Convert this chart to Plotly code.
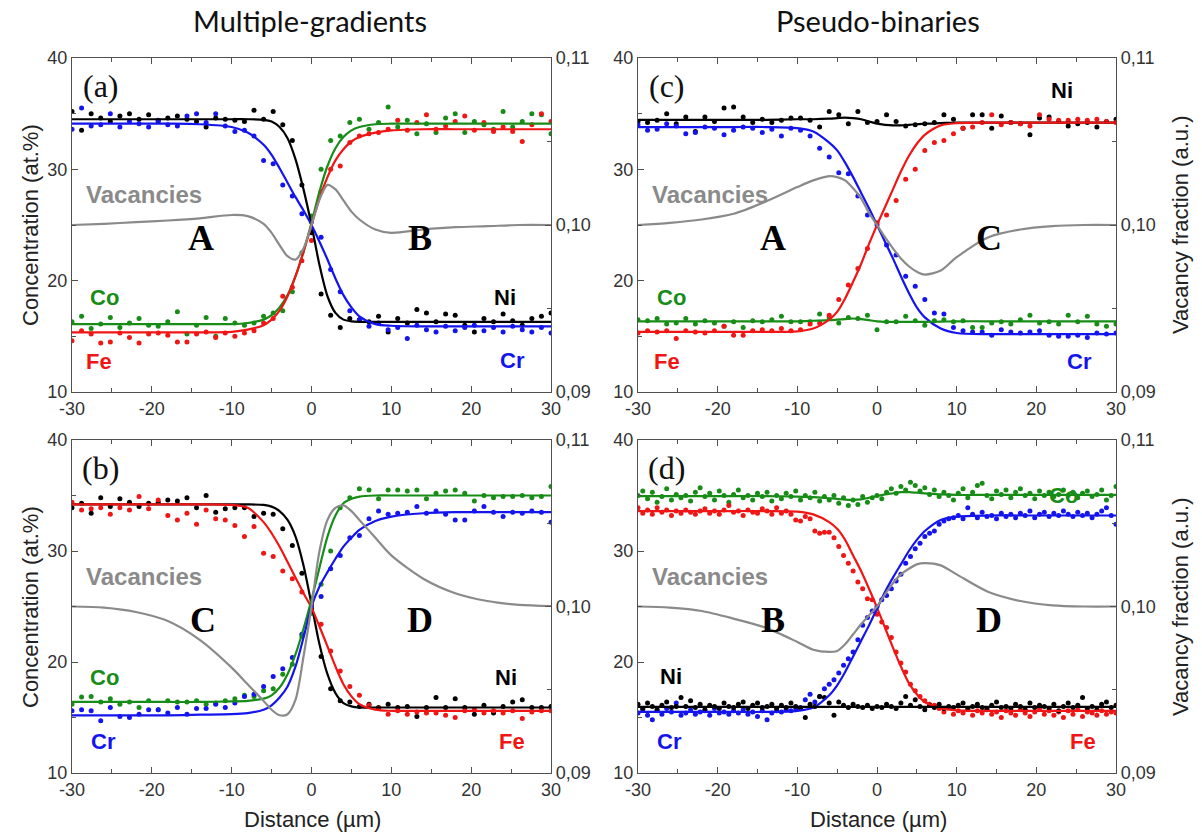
import plotly.graph_objects as go

# ---------------------------------------------------------------------------
# Measurement positions (µm)
# ---------------------------------------------------------------------------
DIST = [-30.0, -28.8, -27.6, -26.4, -25.2, -24.0, -22.8, -21.6, -20.4, -19.2,
        -18.0, -16.8, -15.6, -14.4, -13.2, -12.0, -10.8, -9.6, -8.4, -7.2,
        -6.0, -4.8, -3.6, -2.4, -1.2, 0.0, 1.2, 2.4, 3.6, 4.8,
        6.0, 7.2, 8.4, 9.6, 10.8, 12.0, 13.2, 14.4, 15.6, 16.8,
        18.0, 19.2, 20.4, 21.6, 22.8, 24.0, 25.2, 26.4, 27.6, 28.8, 30.0]

DIST_D = [-30.0, -29.4, -28.8, -28.2, -27.6, -27.0, -26.4, -25.8, -25.2, -24.6,
          -24.0, -23.4, -22.8, -22.2, -21.6, -21.0, -20.4, -19.8, -19.2, -18.6,
          -18.0, -17.4, -16.8, -16.2, -15.6, -15.0, -14.4, -13.8, -13.2, -12.6,
          -12.0, -11.4, -10.8, -10.2, -9.6, -9.0, -8.4, -7.8, -7.2, -6.6,
          -6.0, -5.4, -4.8, -4.2, -3.6, -3.0, -2.4, -1.8, -1.2, -0.6,
          0.0, 0.6, 1.2, 1.8, 2.4, 3.0, 3.6, 4.2, 4.8, 5.4,
          6.0, 6.6, 7.2, 7.8, 8.4, 9.0, 9.6, 10.2, 10.8, 11.4,
          12.0, 12.6, 13.2, 13.8, 14.4, 15.0, 15.6, 16.2, 16.8, 17.4,
          18.0, 18.6, 19.2, 19.8, 20.4, 21.0, 21.6, 22.2, 22.8, 23.4,
          24.0, 24.6, 25.2, 25.8, 26.4, 27.0, 27.6, 28.2, 28.8, 29.4, 30.0]

# Positions at which the fitted profiles are tabulated
FIT_X = [-30, -26, -22, -18, -14, -10, -8, -6, -5, -4, -3, -2, -1, 0,
         1, 2, 3, 4, 5, 6, 8, 10, 14, 18, 22, 26, 30]

# Axis tick labels
X_TICKS = [-30, -20, -10, 0, 10, 20, 30]
X_TICK_TEXT = ["-30", "-20", "-10", "0", "10", "20", "30"]
C_TICKS = [10, 20, 30, 40]
V_TICKS = [0.09, 0.10, 0.11]
V_TICK_TEXT = ["0,09", "0,10", "0,11"]

# ---------------------------------------------------------------------------
# (a) multiple gradients, couple A / B
# ---------------------------------------------------------------------------
A_NI = [35.2, 33.5, 35.0, 34.6, 34.3, 34.8, 35.0, 34.5, 34.9, 34.3,
        34.6, 34.8, 34.5, 34.3, 33.8, 34.6, 34.5, 34.4, 34.3, 35.3,
        34.5, 35.2, 34.0, 32.6, 28.6, 24.3, 18.8, 16.9, 15.8, 16.6,
        16.5, 16.3, 16.8, 15.4, 16.6, 16.2, 17.4, 17.1, 16.3, 17.0,
        16.9, 16.0, 15.4, 16.6, 16.3, 17.0, 16.4, 16.0, 16.6, 16.8, 17.1]
A_CR = [33.6, 35.5, 33.9, 34.0, 35.0, 33.8, 34.3, 34.1, 33.8, 34.4,
        34.0, 33.9, 34.8, 35.0, 34.2, 35.0, 33.9, 33.4, 33.5, 33.0,
        30.8, 30.5, 28.6, 27.6, 26.0, 25.3, 23.9, 21.0, 19.0, 17.3,
        16.5, 15.9, 16.2, 15.6, 15.8, 14.8, 16.0, 15.6, 15.4, 15.9,
        15.5, 15.8, 16.0, 15.5, 15.8, 15.4, 15.9, 15.6, 15.4, 15.8, 15.3]
A_CO = [16.3, 16.8, 15.7, 16.1, 16.7, 15.8, 16.2, 16.6, 16.0, 15.9,
        16.3, 17.2, 15.2, 16.0, 16.7, 15.0, 16.6, 16.2, 16.0, 16.2,
        16.8, 17.1, 17.3, 19.0, 22.5, 25.8, 30.0, 32.6, 33.0, 34.2,
        34.5, 33.6, 34.2, 35.6, 33.8, 34.4, 33.2, 34.1, 33.3, 34.6,
        35.0, 33.3, 34.3, 34.0, 33.6, 35.2, 33.8, 34.3, 35.0, 34.9, 33.2]
A_FE = [14.6, 15.5, 15.2, 14.4, 14.5, 15.3, 14.9, 14.4, 15.2, 15.3,
        15.1, 14.5, 14.5, 15.2, 15.4, 14.9, 15.3, 15.0, 15.3, 15.5,
        16.2, 16.6, 18.6, 19.4, 21.8, 23.6, 28.0, 30.0, 30.3, 32.4,
        33.0, 33.2, 33.3, 33.6, 34.4, 33.5, 34.2, 34.9, 33.6, 33.9,
        34.3, 34.8, 33.5, 34.2, 33.4, 33.8, 33.4, 32.5, 34.0, 35.0, 34.3]

A_NI_FIT = [34.5, 34.5, 34.5, 34.5, 34.5, 34.5, 34.5, 34.45, 34.3, 33.8, 32.8, 30.9, 28.2, 25.0,
            21.4, 18.6, 17.1, 16.5, 16.35, 16.3, 16.3, 16.3, 16.3, 16.3, 16.3, 16.3, 16.3]
A_CR_FIT = [34.1, 34.1, 34.1, 34.1, 34.05, 33.8, 33.3, 32.2, 31.3, 30.1, 28.8, 27.5, 26.3, 25.0,
            23.5, 21.9, 20.2, 18.7, 17.6, 16.8, 16.1, 15.95, 15.9, 15.9, 15.9, 15.9, 15.9]
A_CO_FIT = [16.1, 16.1, 16.1, 16.1, 16.1, 16.1, 16.2, 16.5, 16.9, 17.6, 18.7, 20.4, 22.6, 25.2,
            28.0, 30.3, 31.9, 32.9, 33.5, 33.8, 34.05, 34.1, 34.1, 34.1, 34.1, 34.1, 34.1]
A_FE_FIT = [15.35, 15.35, 15.35, 15.35, 15.35, 15.4, 15.6, 16.0, 16.5, 17.3, 18.6, 20.4, 22.6, 25.0,
            27.4, 29.3, 30.8, 31.8, 32.5, 32.9, 33.3, 33.5, 33.6, 33.6, 33.6, 33.6, 33.6]
A_VAC = [0.1, 0.10007, 0.10017, 0.10027, 0.1004, 0.1006, 0.10053, 0.10007, 0.09953, 0.0988,
         0.09813, 0.09793, 0.0986, 0.1, 0.10153, 0.1024, 0.10213, 0.10147, 0.1008, 0.10033,
         0.09973, 0.09953, 0.09973, 0.09987, 0.09993, 0.1, 0.1]

# ---------------------------------------------------------------------------
# (c) pseudo-binary, couple A / C
# ---------------------------------------------------------------------------
C_NI = [34.3, 34.2, 34.4, 35.0, 34.1, 34.7, 33.4, 34.7, 34.3, 35.5,
        35.6, 34.7, 34.2, 34.5, 34.2, 34.4, 34.6, 34.6, 34.4, 33.8,
        35.2, 34.9, 34.1, 35.2, 34.2, 34.3, 34.9, 34.3, 33.9, 34.0,
        34.1, 34.2, 34.9, 34.5, 33.7, 34.9, 34.9, 33.7, 34.8, 34.2,
        34.1, 33.1, 34.6, 34.7, 34.3, 33.9, 34.1, 34.2, 33.8, 34.3, 34.5]
C_CR = [34.0, 33.5, 33.6, 34.1, 33.9, 33.2, 33.3, 33.8, 33.7, 33.1,
        33.5, 33.8, 33.7, 33.3, 33.6, 33.0, 33.7, 33.5, 33.0, 31.9,
        31.1, 29.7, 29.6, 27.6, 25.9, 25.0, 23.2, 22.3, 20.4, 19.5,
        18.3, 17.1, 17.0, 15.8, 15.5, 15.4, 15.4, 15.1, 15.6, 15.4,
        15.3, 15.4, 15.5, 15.1, 15.0, 15.0, 15.1, 14.9, 15.3, 15.2, 15.3]
C_FE = [15.3, 15.5, 15.4, 15.5, 14.8, 15.5, 15.4, 15.3, 15.5, 15.9,
        15.1, 15.1, 15.5, 15.6, 15.5, 15.7, 15.5, 15.6, 16.1, 16.2,
        16.9, 18.3, 19.6, 21.1, 22.9, 25.2, 25.9, 27.2, 29.1, 30.0,
        31.7, 32.4, 32.6, 33.2, 33.7, 33.8, 34.2, 34.9, 34.0, 34.2,
        34.1, 33.9, 34.9, 34.5, 34.4, 34.4, 34.5, 34.4, 34.5, 34.3, 34.2]
C_CO = [16.5, 16.4, 16.6, 16.1, 16.2, 16.6, 16.1, 16.4, 16.2, 15.9,
        16.3, 15.8, 16.4, 16.3, 16.5, 16.8, 16.3, 16.3, 16.3, 17.0,
        16.7, 16.2, 16.7, 16.6, 16.9, 15.6, 16.3, 16.3, 16.8, 16.4,
        16.0, 16.4, 16.5, 16.3, 16.4, 15.8, 15.8, 16.2, 16.3, 16.1,
        16.5, 16.9, 16.2, 16.3, 16.1, 16.9, 16.3, 16.8, 16.1, 15.9, 16.1]

C_NI_FIT = [34.45, 34.45, 34.45, 34.45, 34.45, 34.5, 34.5, 34.55, 34.6, 34.65, 34.6, 34.5, 34.3, 34.1,
            34.0, 33.95, 33.95, 34.0, 34.05, 34.1, 34.15, 34.2, 34.2, 34.2, 34.2, 34.2, 34.2]
C_CR_FIT = [33.8, 33.8, 33.8, 33.8, 33.8, 33.7, 33.4, 32.4, 31.7, 30.6, 29.3, 27.9, 26.5, 25.0,
            23.5, 22.0, 20.4, 18.9, 17.6, 16.7, 15.7, 15.3, 15.2, 15.2, 15.2, 15.2, 15.2]
C_FE_FIT = [15.4, 15.4, 15.4, 15.4, 15.4, 15.45, 15.7, 16.5, 17.2, 18.4, 19.9, 21.5, 23.3, 25.0,
            26.6, 28.2, 29.8, 31.2, 32.3, 33.1, 33.95, 34.15, 34.2, 34.2, 34.2, 34.2, 34.2]
C_CO_FIT = [16.35, 16.35, 16.35, 16.35, 16.35, 16.35, 16.4, 16.45, 16.5, 16.55, 16.6, 16.55, 16.45, 16.35,
            16.3, 16.3, 16.3, 16.3, 16.3, 16.3, 16.32, 16.35, 16.35, 16.35, 16.35, 16.35, 16.35]
C_VAC = [0.1, 0.10013, 0.10033, 0.10067, 0.1014, 0.10227, 0.10267, 0.10293, 0.10287, 0.10267,
         0.1022, 0.1016, 0.10073, 0.1, 0.09927, 0.0986, 0.098, 0.09753, 0.0972, 0.09703,
         0.09727, 0.09807, 0.09927, 0.09973, 0.09993, 0.1, 0.1]

# ---------------------------------------------------------------------------
# (b) multiple gradients, couple C / D
# ---------------------------------------------------------------------------
B_NI = [33.9, 34.3, 33.4, 34.8, 34.0, 34.7, 34.4, 34.0, 34.3, 34.4,
        34.6, 34.5, 34.8, 33.9, 35.0, 33.5, 33.8, 33.9, 33.9, 33.1,
        33.4, 33.3, 32.0, 30.5, 28.0, 24.7, 20.5, 17.6, 16.5, 16.4,
        16.0, 16.2, 15.9, 16.2, 15.9, 16.0, 15.1, 15.9, 16.8, 15.9,
        16.7, 15.9, 15.3, 16.1, 15.4, 16.0, 16.4, 16.6, 15.9, 15.9, 16.0]
B_FE = [34.4, 33.7, 33.8, 33.9, 33.3, 33.9, 33.7, 34.9, 33.8, 34.6,
        33.2, 32.8, 33.4, 32.4, 33.7, 32.9, 32.8, 32.3, 31.3, 32.2,
        29.8, 29.5, 28.2, 27.5, 26.3, 25.2, 23.4, 21.0, 19.2, 17.8,
        17.0, 16.1, 15.8, 15.3, 15.6, 15.3, 15.5, 15.4, 15.4, 15.2,
        15.0, 15.6, 15.7, 15.4, 15.6, 15.4, 15.6, 14.9, 15.5, 15.6, 15.6]
B_CO = [16.2, 16.85, 16.9, 16.4, 16.7, 16.2, 16.4, 15.9, 16.5, 15.7,
        16.5, 16.4, 16.4, 16.5, 16.2, 16.3, 16.5, 16.7, 17.0, 16.9,
        17.4, 17.6, 18.9, 19.8, 22.3, 24.4, 27.0, 30.0, 33.9, 34.8,
        35.6, 35.5, 34.7, 35.5, 35.5, 35.4, 35.5, 34.7, 35.2, 35.4,
        35.5, 35.2, 34.5, 35.0, 34.8, 34.9, 34.9, 35.0, 34.8, 34.9, 35.8]
B_CR = [15.6, 15.7, 15.6, 14.7, 15.9, 15.1, 15.0, 15.3, 15.7, 15.7,
        15.4, 15.9, 15.3, 15.8, 15.8, 16.2, 15.9, 16.3, 16.9, 17.1,
        17.8, 18.7, 19.4, 20.4, 22.5, 25.0, 25.9, 28.4, 29.6, 31.2,
        31.4, 32.9, 33.6, 33.3, 33.4, 33.5, 34.0, 33.4, 33.6, 33.3,
        32.8, 32.8, 33.6, 34.0, 33.5, 33.1, 33.5, 33.4, 33.6, 33.5, 32.6]

B_NI_FIT = [34.2, 34.2, 34.2, 34.2, 34.2, 34.2, 34.2, 34.15, 34.0, 33.6, 32.8, 31.3, 28.7, 25.2,
            21.6, 18.9, 17.2, 16.3, 16.0, 15.9, 15.9, 15.9, 15.9, 15.9, 15.9, 15.9, 15.9]
B_FE_FIT = [34.2, 34.2, 34.2, 34.2, 34.2, 34.15, 33.9, 32.6, 31.6, 30.4, 29.0, 27.6, 26.2, 24.9,
            23.2, 21.4, 19.6, 18.0, 16.9, 16.2, 15.7, 15.6, 15.6, 15.6, 15.6, 15.6, 15.6]
B_CO_FIT = [16.4, 16.4, 16.4, 16.4, 16.4, 16.45, 16.5, 16.7, 17.0, 17.7, 18.9, 20.7, 23.0, 25.6,
            28.5, 31.3, 33.2, 34.3, 34.7, 34.9, 35.0, 35.0, 35.0, 35.0, 35.0, 35.0, 35.0]
B_CR_FIT = [15.2, 15.2, 15.2, 15.2, 15.25, 15.3, 15.4, 15.7, 16.1, 16.8, 17.8, 19.6, 22.2, 25.0,
            26.8, 28.1, 29.3, 30.4, 31.2, 31.9, 32.7, 33.1, 33.4, 33.5, 33.5, 33.5, 33.5]
B_VAC = [0.1, 0.09993, 0.09967, 0.09913, 0.098, 0.09633, 0.09533, 0.09433, 0.0938, 0.09347,
         0.09353, 0.0944, 0.097, 0.1, 0.10333, 0.1052, 0.10593, 0.10607, 0.10573, 0.1052,
         0.10413, 0.10307, 0.10167, 0.1008, 0.10033, 0.1001, 0.10003]

# ---------------------------------------------------------------------------
# (d) pseudo-binary, couple B / D
# ---------------------------------------------------------------------------
D_CO = [35.0, 35.4, 34.7, 35.3, 34.4, 34.9, 35.6, 34.6, 35.1, 34.8,
        35.0, 34.5, 35.3, 35.7, 34.9, 35.2, 34.6, 35.4, 35.0, 34.4,
        35.1, 35.5, 34.8, 35.0, 34.6, 35.2, 34.9, 35.3, 34.5, 35.0,
        34.7, 35.2, 34.9, 35.4, 34.6, 35.0, 34.8, 35.3, 34.5, 34.9,
        34.6, 35.0, 34.3, 34.8, 34.1, 34.6, 34.2, 34.9, 34.4, 34.8,
        35.0, 34.7, 35.3, 35.6, 35.2, 35.8, 35.5, 36.2, 35.9, 35.4,
        35.7, 35.1, 35.5, 34.9, 35.3, 35.0, 34.6, 35.2, 35.6, 34.8,
        35.3, 35.9, 36.1, 35.0, 34.7, 35.4, 35.1, 35.5, 34.8, 35.3,
        35.6, 35.0, 35.2, 34.7, 35.4, 35.0, 35.3, 34.9, 35.1, 35.5,
        35.0, 35.3, 34.8, 35.2, 35.4, 34.9, 35.1, 35.5, 34.6, 35.0, 35.8]
D_FE = [33.9, 33.4, 33.7, 33.3, 33.9, 33.5, 33.7, 33.2, 33.6, 33.4,
        33.7, 33.5, 33.3, 33.6, 33.8, 33.4, 33.6, 33.3, 33.7, 34.1,
        33.5, 33.6, 33.2, 33.7, 33.5, 33.4, 33.8, 33.6, 33.3, 33.9,
        33.4, 33.6, 33.3, 32.8, 32.7, 33.1, 32.9, 31.8, 31.6, 31.7,
        31.7, 31.2, 30.4, 29.6, 28.9, 28.2, 27.2, 26.6, 25.7, 25.6,
        24.3, 23.6, 23.1, 22.2, 20.9, 19.9, 19.1, 18.0, 17.4, 16.9,
        16.5, 16.2, 16.1, 15.8, 15.5, 15.9, 15.3, 15.6, 15.4, 15.7,
        15.2, 15.6, 15.4, 15.8, 15.3, 15.5, 15.0, 15.6, 15.4, 15.2,
        15.7, 15.4, 15.1, 15.5, 15.8, 15.3, 15.6, 15.2, 15.5, 15.0,
        15.6, 15.3, 15.7, 15.1, 15.5, 15.4, 15.2, 15.6, 15.3, 15.5, 15.4]
D_CR = [15.4, 15.7, 15.2, 14.8, 15.6, 15.3, 15.8, 15.5, 16.3, 15.2,
        15.4, 15.7, 15.3, 15.5, 15.6, 15.2, 15.8, 15.4, 15.5, 15.3,
        15.6, 15.4, 15.7, 15.3, 15.5, 15.1, 15.6, 14.8, 15.4, 15.6,
        15.5, 15.7, 15.6, 15.8, 15.9, 16.6, 17.1, 16.4, 16.9, 17.6,
        18.0, 18.4, 19.0, 19.7, 20.3, 20.9, 22.0, 23.3, 24.0, 24.6,
        25.0, 25.6, 26.0, 26.6, 27.3, 27.9, 28.9, 29.5, 30.2, 30.7,
        31.3, 31.6, 31.8, 32.4, 32.7, 32.9, 33.0, 33.2, 32.9, 33.9,
        33.3, 33.0, 33.5, 33.1, 33.2, 32.9, 33.4, 33.1, 33.3, 33.0,
        33.4, 33.2, 33.6, 33.0, 33.3, 33.5, 33.1, 33.4, 33.2, 33.6,
        33.3, 33.1, 33.5, 33.2, 33.4, 33.0, 33.3, 33.6, 33.9, 33.2, 32.4]
D_NI = [16.2, 15.8, 16.3, 16.0, 15.7, 16.1, 16.4, 15.9, 16.0, 16.8,
        16.0, 16.5, 15.9, 16.2, 15.7, 16.1, 16.0, 15.8, 16.3, 16.0,
        15.9, 16.2, 16.4, 15.8, 16.1, 16.3, 15.9, 16.0, 16.2, 15.8,
        16.1, 15.9, 16.3, 16.0, 15.8, 15.0, 16.2, 16.0, 16.9, 16.8,
        16.3, 15.2, 16.4, 16.1, 15.9, 16.2, 16.0, 15.9, 16.1, 15.8,
        16.0, 15.9, 16.2, 16.0, 15.8, 16.3, 16.9, 16.1, 16.6, 16.0,
        15.7, 16.1, 15.9, 16.2, 15.8, 16.0, 15.9, 16.1, 16.3, 15.8,
        16.0, 16.2, 15.9, 15.7, 16.1, 16.4, 15.9, 16.0, 15.8, 16.2,
        16.0, 15.7, 16.3, 15.9, 16.1, 16.0, 15.8, 16.2, 15.6, 16.0,
        16.3, 15.9, 16.1, 16.8, 15.8, 16.0, 15.7, 16.2, 16.4, 15.9, 16.1]

D_CO_FIT = [34.95, 34.95, 34.95, 34.95, 34.95, 34.9, 34.85, 34.75, 34.7, 34.62, 34.6, 34.65, 34.8, 34.95,
            35.1, 35.2, 35.3, 35.3, 35.25, 35.2, 35.1, 35.05, 35.05, 35.05, 35.05, 35.05, 35.05]
D_FE_FIT = [33.6, 33.6, 33.6, 33.6, 33.6, 33.55, 33.3, 32.6, 32.0, 31.0, 29.6, 28.2, 26.6, 24.9,
            23.1, 21.3, 19.6, 18.1, 17.1, 16.4, 15.85, 15.65, 15.6, 15.6, 15.6, 15.6, 15.6]
D_CR_FIT = [15.5, 15.5, 15.5, 15.5, 15.5, 15.6, 15.9, 17.0, 17.9, 19.1, 20.5, 21.9, 23.3, 24.8,
            26.3, 27.6, 28.8, 30.0, 31.0, 31.8, 32.8, 33.1, 33.2, 33.2, 33.2, 33.2, 33.2]
D_NI_FIT = [15.95, 15.95, 15.95, 15.95, 15.95, 15.95, 15.95, 15.95, 15.95, 15.95, 15.95, 15.95, 15.95, 15.95,
            15.95, 15.95, 15.95, 15.95, 15.95, 15.95, 15.95, 15.95, 15.95, 15.95, 15.95, 15.95, 15.95]
D_VAC = [0.1, 0.09993, 0.09973, 0.09927, 0.09873, 0.09787, 0.0974, 0.09727, 0.09733, 0.09773,
         0.09833, 0.09893, 0.09947, 0.1, 0.10073, 0.1014, 0.10193, 0.10227, 0.10253, 0.1026,
         0.10247, 0.10193, 0.10087, 0.10033, 0.10007, 0.1, 0.1]

# ---------------------------------------------------------------------------
# Styling
# ---------------------------------------------------------------------------
COL = {"Ni": "#000000", "Cr": "#1414ee", "Co": "#178c17", "Fe": "#f01616"}
VAC_COL = "#8a8a8a"
AXIS_COL = "#505050"
TICK_COL = "#333333"
SANS = "Liberation Sans, Arial, sans-serif"
SERIF = "Liberation Serif, Times New Roman, serif"

W, H = 1202, 839
X_LEFT = [72 / W, 551 / W]
X_RIGHT = [638 / W, 1116 / W]
Y_TOP = [1 - 392 / H, 1 - 58 / H]
Y_BOT = [1 - 773 / H, 1 - 440 / H]

panels = [
    dict(n=1, xdom=X_LEFT, ydom=Y_TOP, tag="(a)", dist=DIST,
         dots={"Ni": A_NI, "Cr": A_CR, "Co": A_CO, "Fe": A_FE},
         fits={"Ni": A_NI_FIT, "Cr": A_CR_FIT, "Co": A_CO_FIT, "Fe": A_FE_FIT},
         vac=A_VAC, letters=[("A", -13.9), ("B", 13.6)],
         labels=[("Co", -25.9, 18.5), ("Fe", -26.6, 12.7), ("Ni", 24.2, 18.5), ("Cr", 25.2, 12.8)]),
    dict(n=2, xdom=X_RIGHT, ydom=Y_TOP, tag="(c)", dist=DIST,
         dots={"Ni": C_NI, "Cr": C_CR, "Co": C_CO, "Fe": C_FE},
         fits={"Ni": C_NI_FIT, "Cr": C_CR_FIT, "Co": C_CO_FIT, "Fe": C_FE_FIT},
         vac=C_VAC, letters=[("A", -13.1), ("C", 14.0)],
         labels=[("Ni", 23.2, 37.1), ("Co", -25.8, 18.5), ("Fe", -26.3, 12.7), ("Cr", 25.4, 12.7)]),
    dict(n=3, xdom=X_LEFT, ydom=Y_BOT, tag="(b)", dist=DIST,
         dots={"Ni": B_NI, "Fe": B_FE, "Co": B_CO, "Cr": B_CR},
         fits={"Ni": B_NI_FIT, "Fe": B_FE_FIT, "Co": B_CO_FIT, "Cr": B_CR_FIT},
         vac=B_VAC, letters=[("C", -13.6), ("D", 13.6)],
         labels=[("Co", -25.9, 18.6), ("Cr", -26.1, 12.8), ("Ni", 24.4, 18.6), ("Fe", 25.1, 12.8)]),
    dict(n=4, xdom=X_RIGHT, ydom=Y_BOT, tag="(d)", dist=DIST_D,
         dots={"Co": D_CO, "Fe": D_FE, "Cr": D_CR, "Ni": D_NI},
         fits={"Co": D_CO_FIT, "Fe": D_FE_FIT, "Cr": D_CR_FIT, "Ni": D_NI_FIT},
         vac=D_VAC, letters=[("B", -13.0), ("D", 14.0)],
         labels=[("Co", 23.4, 35.0), ("Ni", -25.8, 18.7), ("Cr", -26.0, 12.8), ("Fe", 25.9, 12.8)]),
]

fig = go.Figure()
layout = {}
annotations = []


def note(x, y, text, font, xref="paper", yref="paper", angle=0):
    return dict(x=x, y=y, xref=xref, yref=yref, text=text, textangle=angle,
                xanchor="center", yanchor="middle", showarrow=False, font=font)


for p in panels:
    n = p["n"]
    xa = "x" if n == 1 else f"x{n}"
    ya = "y" if n == 1 else f"y{n}"
    ya2 = f"y{n + 4}"

    # measured points
    for el, vals in p["dots"].items():
        fig.add_trace(go.Scatter(
            x=p["dist"], y=vals, mode="markers", xaxis=xa, yaxis=ya,
            marker=dict(size=5, color=COL[el], line=dict(width=0)),
            showlegend=False, hoverinfo="skip"))
    # fitted profiles
    for el, vals in p["fits"].items():
        fig.add_trace(go.Scatter(
            x=FIT_X, y=vals, mode="lines", xaxis=xa, yaxis=ya,
            line=dict(color=COL[el], width=2.2, shape="spline", smoothing=0.8),
            showlegend=False, hoverinfo="skip"))
    # vacancy fraction on the right-hand axis
    fig.add_trace(go.Scatter(
        x=FIT_X, y=p["vac"], mode="lines", xaxis=xa, yaxis=ya2,
        line=dict(color=VAC_COL, width=2.2, shape="spline", smoothing=0.8),
        showlegend=False, hoverinfo="skip"))

    tickfont = dict(family=SANS, size=18, color=TICK_COL)
    common = dict(ticks="inside", ticklen=6, tickcolor=AXIS_COL, tickwidth=1.2,
                  showline=True, linecolor=AXIS_COL, linewidth=1.3,
                  showgrid=False, zeroline=False, tickfont=tickfont,
                  fixedrange=True, automargin=False)
    layout["xaxis" if n == 1 else f"xaxis{n}"] = dict(
        domain=p["xdom"], anchor=ya, range=[-30, 30],
        tickvals=X_TICKS, ticktext=X_TICK_TEXT, mirror="ticks",
        minor=dict(ticks="inside", ticklen=3.5, dtick=5, tick0=0,
                   tickcolor=AXIS_COL, showgrid=False),
        **common)
    layout["yaxis" if n == 1 else f"yaxis{n}"] = dict(
        domain=p["ydom"], anchor=xa, range=[10, 40], tickvals=C_TICKS,
        minor=dict(ticks="inside", ticklen=3.5, dtick=5, tick0=10,
                   tickcolor=AXIS_COL, showgrid=False),
        **common)
    layout[f"yaxis{n + 4}"] = dict(
        overlaying=ya, side="right", anchor=xa, range=[0.09, 0.11],
        tickvals=V_TICKS, ticktext=V_TICK_TEXT,
        minor=dict(ticks="inside", ticklen=3.5, tickvals=[0.095, 0.105],
                   tickcolor=AXIS_COL, showgrid=False),
        **common)

    # panel text
    annotations.append(note(-26.4, 37.5, p["tag"], dict(family=SERIF, size=32, color="#111"), xa, ya))
    annotations.append(note(-21.0, 27.7, "<b>Vacancies</b>",
                            dict(family=SANS, size=24, color=VAC_COL), xa, ya))
    for letter, lx in p["letters"]:
        annotations.append(note(lx, 23.8, f"<b>{letter}</b>",
                                dict(family=SERIF, size=36, color="#000"), xa, ya))
    for el, lx, ly in p["labels"]:
        annotations.append(note(lx, ly, f"<b>{el}</b>",
                                dict(family=SANS, size=22, color=COL[el]), xa, ya))

# column headings
head_font = dict(family="Lato, sans-serif", size=29, color="#111")
annotations.append(note(310 / W, 1 - 21 / H, "Multiple-gradients", head_font))
annotations.append(note(878 / W, 1 - 21 / H, "Pseudo-binaries", head_font))

# axis titles
title_font = dict(family=SANS, size=22, color="#222")
for yc in (225, 607):
    annotations.append(note(30 / W, 1 - yc / H, "Concentration (at.%)", title_font, angle=-90))
    annotations.append(note(1180 / W, 1 - yc / H, "Vacancy fraction (a.u.)", title_font, angle=-90))
for xc in (312, 878):
    annotations.append(note(xc / W, 1 - 819 / H, "Distance (µm)", title_font))

fig.update_layout(
    width=W, height=H,
    margin=dict(l=0, r=0, t=0, b=0, pad=0, autoexpand=False),
    paper_bgcolor="white", plot_bgcolor="white",
    showlegend=False,
    annotations=annotations,
    **layout,
)

fig.write_html("out.html")
